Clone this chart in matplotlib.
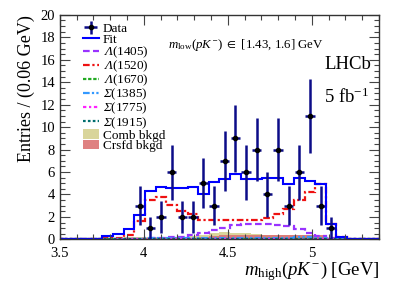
import numpy as np
import matplotlib
matplotlib.use("Agg")
import matplotlib.pyplot as plt
from matplotlib.ticker import MultipleLocator, AutoMinorLocator, FormatStrFormatter

plt.rcParams['font.family'] = ['Liberation Serif', 'DejaVu Serif']
plt.rcParams['mathtext.fontset'] = 'custom'
# Greek capitals go to the "rm" slot in mathtext; make it italic so Λ/Σ lean like the original
plt.rcParams['mathtext.rm'] = 'Liberation Serif:italic'
plt.rcParams['mathtext.it'] = 'Liberation Serif:italic'
plt.rcParams['mathtext.sf'] = 'Liberation Serif'
plt.rcParams['mathtext.fallback'] = 'stix'

# ── binning: 30 bins over the plotted range ─────────────────
x_lo, x_hi, n_bins = 3.5, 5.4, 30
edges = np.linspace(x_lo, x_hi, n_bins + 1)
centers = 0.5 * (edges[:-1] + edges[1:])

# ── DATA (one value per bin) ────────────────────────────────
data_counts = [0, 0, 0, 0, 0, 0, 0, 3, 1, 2, 6, 2, 2, 5, 3, 7, 9, 6, 8, 4,
               8, 3, 6, 11, 3, 1, 0, 0, 0, 0]
fit = [0, 0, 0, 0, 0.3, 0.45, 0.9, 2.15, 4.3, 4.65, 4.55, 4.6, 4.7, 4.05, 5.1,
       5.4, 5.8, 5.4, 5.35, 5.45, 5.45, 4.95, 5.5, 5.2, 4.95, 1.4, 0.2, 0, 0, 0]
lam1405 = [0, 0, 0, 0, 0, 0, 0.02, 0.05, 0.1, 0.15, 0.22, 0.25, 0.4, 0.6, 0.85,
           1.05, 1.25, 1.35, 1.38, 1.38, 1.3, 1.15, 0.95, 0.6, 0.3, 0.12, 0.03, 0, 0, 0]
lam1520 = [0, 0, 0, 0, 0.15, 0.15, 0.4, 1.6, 3.5, 3.8, 3.1, 2.55, 2.25, 1.75, 1.7,
           1.7, 1.7, 1.7, 1.7, 1.9, 2.3, 2.7, 3.5, 4.2, 4.9, 1.4, 0.2, 0, 0, 0]
lam1670 = [0, 0, 0, 0, 0.02, 0.02, 0.03, 0.04, 0.05, 0.05, 0.05, 0.05, 0.05, 0.05, 0.05,
           0.06, 0.06, 0.06, 0.06, 0.06, 0.06, 0.06, 0.06, 0.05, 0.05, 0.02, 0, 0, 0, 0]
sig1385 = [0, 0, 0, 0, 0.02, 0.03, 0.04, 0.06, 0.08, 0.08, 0.08, 0.08, 0.09, 0.1, 0.1,
           0.1, 0.1, 0.1, 0.1, 0.12, 0.14, 0.16, 0.18, 0.2, 0.15, 0.05, 0.01, 0, 0, 0]
sig1775 = [0, 0, 0, 0, 0.01, 0.01, 0.02, 0.03, 0.04, 0.04, 0.04, 0.04, 0.04, 0.04, 0.04,
           0.04, 0.04, 0.04, 0.04, 0.04, 0.04, 0.04, 0.04, 0.04, 0.03, 0.01, 0, 0, 0, 0]
sig1915 = [0, 0, 0, 0, 0.01, 0.01, 0.01, 0.02, 0.02, 0.02, 0.02, 0.02, 0.02, 0.02, 0.02,
           0.02, 0.02, 0.02, 0.02, 0.02, 0.02, 0.02, 0.02, 0.02, 0.02, 0.01, 0, 0, 0, 0]
comb = [0.05, 0.05, 0.05, 0.08, 0.12, 0.15, 0.18, 0.2, 0.2, 0.2, 0.22, 0.25, 0.28, 0.35, 0.55,
        0.62, 0.6, 0.55, 0.45, 0.42, 0.4, 0.38, 0.4, 0.38, 0.3, 0.15, 0.1, 0.08, 0.06, 0.05]
crsfd = [0.02, 0.02, 0.02, 0.03, 0.05, 0.05, 0.06, 0.07, 0.08, 0.1, 0.1, 0.12, 0.15, 0.2, 0.3,
         0.35, 0.38, 0.38, 0.38, 0.36, 0.36, 0.38, 0.4, 0.4, 0.35, 0.15, 0.05, 0.02, 0.02, 0.02]

data_counts = np.array(data_counts, dtype=float)

fig = plt.figure(figsize=(3.99, 2.86), dpi=100)
ax = fig.add_axes([0.150, 0.163, 0.800, 0.785])

# backgrounds (filled)
ax.stairs(comb, edges, fill=True, color='#d9d59b', lw=0, label='Comb bkgd')
ax.stairs(crsfd, edges, fill=True, color='#dc7373', lw=0, label='Crsfd bkgd', alpha=0.9)

# signal components
ax.stairs(lam1405, edges, color='#9933ff', lw=1.6, ls=(0, (3, 1.5)), label=r'$\Lambda$(1405)')
ax.stairs(lam1520, edges, color='#ee1111', lw=1.6, ls=(0, (3, 1.2, 1, 1.2)), label=r'$\Lambda$(1520)')
ax.stairs(lam1670, edges, color='#22aa22', lw=1.6, ls=(0, (1.5, 0.8)), label=r'$\Lambda$(1670)')
ax.stairs(sig1385, edges, color='#3399ff', lw=1.6, ls=(0, (3, 1, 1, 1, 1, 1)), label=r'$\Sigma$(1385)')
ax.stairs(sig1775, edges, color='#ff22ff', lw=1.6, ls=(0, (1.5, 1.2, 1, 1.2)), label=r'$\Sigma$(1775)')
ax.stairs(sig1915, edges, color='#006e6e', lw=1.6, ls=(0, (1.2, 1.0)), label=r'$\Sigma$(1915)')

# total fit
ax.stairs(fit, edges, color='#0000ff', lw=1.5, label='Fit')

# data
m = data_counts > 0
ax.errorbar(centers[m], data_counts[m], xerr=0.028, yerr=np.sqrt(data_counts[m]),
            fmt='o', ms=3, color='black', ecolor='#0c0c88', elinewidth=1.8,
            capsize=0, label='Data', zorder=5)

ax.set_xlim(x_lo, x_hi)
ax.set_ylim(0, 20)
ax.xaxis.set_major_locator(MultipleLocator(0.5))
ax.xaxis.set_major_formatter(FormatStrFormatter('%g'))
ax.xaxis.set_minor_locator(AutoMinorLocator(5))
ax.yaxis.set_major_locator(MultipleLocator(2))
ax.yaxis.set_minor_locator(AutoMinorLocator(4))
ax.tick_params(which='both', direction='in', top=True, right=True, labelsize=10.5,
               color='#444444')
ax.tick_params(which='major', length=7, width=0.8)
ax.tick_params(which='minor', length=3.5, width=0.8)
ax.tick_params(axis='x', which='major', pad=5.8)
for s in ax.spines.values():
    s.set_linewidth(1.0)
    s.set_color('#333333')

ax.set_xlabel(r'$m_{\mathsf{high}}$($pK^{-}$) [GeV]', fontsize=13.5, loc='right', labelpad=-1)
ax.set_ylabel('Entries / (0.06 GeV)', fontsize=13, loc='top', labelpad=4)

# legend in the original order
h, l = ax.get_legend_handles_labels()
order = ['Data', 'Fit', r'$\Lambda$(1405)', r'$\Lambda$(1520)', r'$\Lambda$(1670)',
         r'$\Sigma$(1385)', r'$\Sigma$(1775)', r'$\Sigma$(1915)', 'Comb bkgd', 'Crsfd bkgd']
hd = dict(zip(l, h))
ax.legend([hd[k] for k in order], order, loc='upper left', bbox_to_anchor=(0.071, 0.965),
          frameon=False, fontsize=9.5, handlelength=1.25, handletextpad=0.3,
          labelspacing=-0.1, borderaxespad=0.0, borderpad=0.0)

ax.text(0.339, 0.866, r'$m_{\mathsf{low}}$($pK^{-}$) $\in$ [1.43, 1.6] GeV',
        transform=ax.transAxes, fontsize=9.3, va='center', ha='left')
ax.text(0.828, 0.78, 'LHCb', transform=ax.transAxes, fontsize=13.5, va='center', ha='left')
ax.text(0.828, 0.632, r'5 fb$^{\mathsf{-1}}$', transform=ax.transAxes, fontsize=13.5,
        va='center', ha='left')

fig.savefig('out.png', dpi=100)
